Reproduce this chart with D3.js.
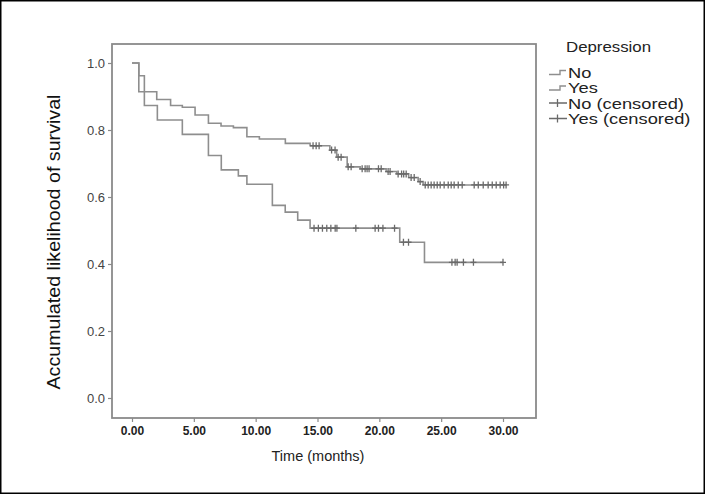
<!DOCTYPE html>
<html><head><meta charset="utf-8">
<script src="https://cdn.jsdelivr.net/npm/d3@7"></script>
<style>body{margin:0;background:#fff}svg{display:block}text{font-family:"Liberation Sans",Arial,sans-serif}</style>
</head><body>
<script>
// Kaplan-Meier steps: [time (months), survival after drop]
const noSteps = [[0,1.0],[0.55,0.914],[2.0,0.891],[3.12,0.873],[4.07,0.868],[5.10,0.845],[6.18,0.820],[7.2,0.812],[8.2,0.807],[9.29,0.780],[10.3,0.773],[12.4,0.760],[14.4,0.753],[16.0,0.740],[16.55,0.719],[17.4,0.690],[18.45,0.684],[20.55,0.676],[21.4,0.669],[22.37,0.658],[23.14,0.646],[23.54,0.636]];
const noEnd = 30.25;
const noCensored = [14.64,14.89,15.13,16.14,16.42,16.67,16.91,17.48,17.72,18.61,18.85,19.01,19.17,19.93,20.15,20.71,20.87,21.52,21.80,21.97,22.17,22.57,22.82,23.30,23.71,23.95,24.19,24.43,24.68,24.92,25.24,25.57,25.81,26.05,26.38,26.70,27.67,28.0,28.40,28.80,29.13,29.45,29.77,30.05,30.25];
const yesSteps = [[0,1.0],[0.55,0.962],[1.0,0.873],[2.05,0.830],[4.07,0.787],[6.18,0.724],[7.22,0.681],[8.6,0.663],[9.29,0.638],[11.35,0.575],[12.39,0.555],[13.4,0.531],[14.4,0.507],[21.65,0.465],[23.65,0.405]];
const yesEnd = 30.0;
const yesCensored = [14.72,15.07,15.40,15.75,16.08,16.43,16.57,18.10,19.66,19.93,20.29,21.23,21.95,22.36,25.87,26.13,26.29,26.80,27.61,30.0];
const xTicks = [0,5,10,15,20,25,30];
const yTicks = [0,0.2,0.4,0.6,0.8,1.0];
const legendTitle = "Depression";
const legendItems = ["No","Yes","No (censored)","Yes (censored)"];

const W=705,H=494;
const box={l:112,t:44,r:536,b:418};
const svg=d3.select("body").append("svg").attr("width",W).attr("height",H);
svg.append("rect").attr("x",0.75).attr("y",0.75).attr("width",W-1.5).attr("height",H-1.5).attr("fill","#fff").attr("stroke","#000").attr("stroke-width",1.5);

const x=d3.scaleLinear().domain([0,30]).range([132,503]);
const y=d3.scaleLinear().domain([0,1]).range([398,63]);

const lineCol="#8e8e8e", markCol="#6a6a6a";

svg.append("rect").attr("x",box.l).attr("y",box.t).attr("width",box.r-box.l).attr("height",box.b-box.t)
  .attr("fill","none").attr("stroke","#8a8a8a").attr("stroke-width",1.8);

// axes
const xa=svg.append("g").attr("transform",`translate(0,${box.b})`)
  .call(d3.axisBottom(x).tickValues(xTicks).tickSize(4).tickPadding(4).tickFormat(d3.format(".2f")));
const ya=svg.append("g").attr("transform",`translate(${box.l},0)`)
  .call(d3.axisLeft(y).tickValues(yTicks).tickSize(4).tickPadding(3).tickFormat(d3.format(".1f")));
[xa,ya].forEach(g=>{g.select(".domain").remove();g.selectAll("line").attr("stroke","#8a8a8a").attr("stroke-width",1.2);});
xa.selectAll("text").attr("font-size",12).attr("font-weight","bold").attr("fill","#222");
ya.selectAll("text").attr("font-size",13).attr("fill","#444");

svg.append("text").attr("x",318).attr("y",461).attr("text-anchor","middle").attr("font-size",14.5).attr("fill","#222").text("Time (months)");
svg.append("text").attr("transform","translate(60,242) rotate(-90)").attr("text-anchor","middle").attr("font-size",17.5)
  .attr("textLength",295).attr("lengthAdjust","spacingAndGlyphs").attr("fill","#111").text("Accumulated likelihood of survival");

function stepPts(steps,end){
  const pts=[];
  steps.forEach((s,i)=>{ if(i>0) pts.push([s[0],steps[i-1][1]]); pts.push(s); });
  pts.push([end,steps[steps.length-1][1]]);
  return pts;
}
function survAt(steps,t){let v=1;steps.forEach(s=>{if(s[0]<=t)v=s[1];});return v;}
const line=d3.line().x(d=>x(d[0])).y(d=>y(d[1]));

[[yesSteps,yesEnd,yesCensored],[noSteps,noEnd,noCensored]].forEach(([st,end,cens])=>{
  svg.append("path").attr("d",line(stepPts(st,end))).attr("fill","none").attr("stroke",lineCol).attr("stroke-width",1.6);
  svg.append("g").selectAll("path").data(cens).join("path")
    .attr("d",t=>{const cx=x(t),cy=y(survAt(st,t));return `M${cx},${cy-3.5}V${cy+3.5}M${cx-3},${cy}H${cx+3}`;})
    .attr("stroke",markCol).attr("stroke-width",1.3).attr("fill","none");
});

// legend
const lg=svg.append("g");
function stretch(sel,f){const n=sel.node();sel.attr("textLength",n.getComputedTextLength()*f).attr("lengthAdjust","spacingAndGlyphs");}
stretch(lg.append("text").attr("x",566).attr("y",52).attr("font-size",14).attr("fill","#222").text(legendTitle),1.2);
legendItems.forEach((txt,i)=>{
  const cy=72+i*15.5;
  stretch(lg.append("text").attr("x",568).attr("y",cy+5.5).attr("font-size",15).attr("fill","#222").text(txt),1.22);
  if(i<2){
    lg.append("path").attr("d",`M549,${cy+2.5}H560V${cy-1.5}H566`).attr("fill","none").attr("stroke",lineCol).attr("stroke-width",1.4);
  } else {
    lg.append("path").attr("d",`M549,${cy}H567M557.5,${cy-4}V${cy+4}`).attr("fill","none").attr("stroke",markCol).attr("stroke-width",1.3);
  }
});
</script>
</body></html>
